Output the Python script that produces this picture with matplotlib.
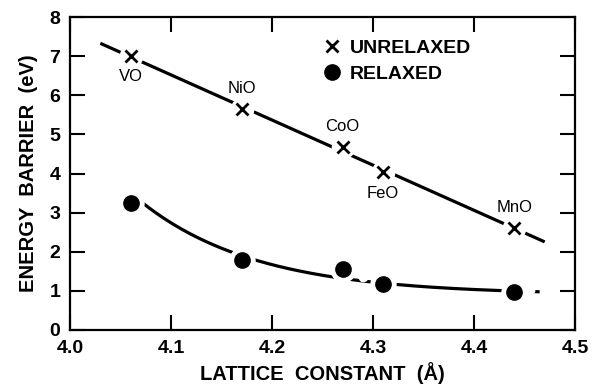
import numpy as np
import matplotlib
matplotlib.use("Agg")
import matplotlib.pyplot as plt
from matplotlib.lines import Line2D

plt.rcParams['font.family'] = ['Liberation Sans', 'DejaVu Sans']
plt.rcParams['font.weight'] = 'bold'

# Data
oxides = ['VO', 'NiO', 'CoO', 'FeO', 'MnO']
lattice = [4.06, 4.17, 4.27, 4.31, 4.44]
unrelaxed = [7.0, 5.65, 4.67, 4.03, 2.6]
relaxed = [3.25, 1.8, 1.55, 1.18, 0.98]
label_pos = ['below', 'above', 'above', 'below', 'above']

fig = plt.figure(figsize=(5.94, 3.91), dpi=100)
ax = fig.add_axes([70 / 594, 1 - 330 / 391, 505 / 594, 313 / 391])

x = np.array(lattice)

# straight trend line for the unrelaxed barriers
p = np.polyfit(x, unrelaxed, 1)
xl = np.linspace(4.03, 4.47, 200)
ax.plot(xl, np.polyval(p, xl), color='black', lw=2.3, zorder=1, solid_capstyle='butt')

# smooth decaying curve for the relaxed barriers
floor = 0.9
q = np.polyfit(x, np.log(np.array(relaxed) - floor), 1)
xr = np.linspace(4.06, 4.465, 200)
ax.plot(xr, floor + np.exp(np.polyval(q, xr)), color='black', lw=2.3, zorder=1,
        solid_capstyle='butt')

# white gaps around the symbols
ax.plot(x, unrelaxed, 'o', ms=17, mfc='white', mec='none', zorder=2)
ax.plot(x, relaxed, 'o', ms=19, mfc='white', mec='none', zorder=2)
ax.plot([4.29, 4.455], [1.36, 1.03], 'o', ms=7, mfc='white', mec='none', zorder=2)

ax.plot(x, unrelaxed, 'x', ms=9, mew=2, color='black', zorder=3)
ax.plot(x, relaxed, 'o', ms=11, color='black', zorder=3)

for name, xi, yi, pos in zip(oxides, lattice, unrelaxed, label_pos):
    dy = -15 if pos == 'below' else 15
    ax.annotate(name, (xi, yi), xytext=(0, dy), textcoords='offset points',
                ha='center', va='center', fontsize=12, fontweight='normal',
                bbox=dict(fc='white', ec='none', pad=1), zorder=4)

ax.set_xlim(4.0, 4.5)
ax.set_ylim(0, 8)
ax.set_xticks([4.0, 4.1, 4.2, 4.3, 4.4, 4.5])
ax.set_xticklabels(['4.0', '4.1', '4.2', '4.3', '4.4', '4.5'])
ax.set_yticks(range(0, 9))
ax.tick_params(direction='in', length=11, width=1.5, labelsize=14,
               top=True, right=True, pad=7)
for s in ax.spines.values():
    s.set_linewidth(1.6)

ax.set_xlabel('LATTICE  CONSTANT  (Å)', fontsize=14.5, fontweight='bold', labelpad=4)
ax.set_ylabel('ENERGY  BARRIER  (eV)', fontsize=14.5, fontweight='bold', labelpad=8)

handles = [Line2D([], [], ls='none', marker='x', ms=9, mew=2, color='black'),
           Line2D([], [], ls='none', marker='o', ms=11, color='black')]
ax.legend(handles, ['UNRELAXED', 'RELAXED'], loc='upper left',
          bbox_to_anchor=(0.462, 0.985), frameon=False,
          handletextpad=0.3, handlelength=1.2, labelspacing=0.45,
          prop={'weight': 'bold', 'size': 14})

fig.savefig('out.png', dpi=100)
